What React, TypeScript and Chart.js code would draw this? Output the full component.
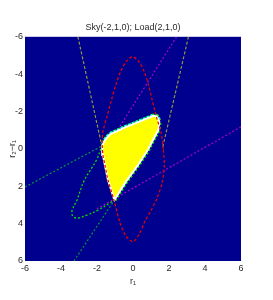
import { useEffect, useRef } from 'react';
import { Chart, registerables } from 'chart.js';

Chart.register(...registerables);

const TITLE = 'Sky(-2,1,0); Load(2,1,0)';
const X_LABEL = 'r₁';
const Y_LABEL = 'r₂−r₁';
const AXIS_MIN = -6;
const AXIS_MAX = 6;
const TICK_STEP = 2;

// red dashed ellipse (r1, r2-r1)
const RED_ELLIPSE: [number, number][] = [
  [1.69, 0.05], [1.74, 0.9], [1.62, 1.8], [1.35, 2.6], [1.0, 3.3], [0.67, 3.85], [0.35, 4.55],
  [0.0, 4.96], [-0.4, 4.65], [-0.72, 3.95], [-1.06, 2.73], [-1.39, 1.66], [-1.56, 0.86],
  [-1.67, 0.32], [-1.71, -0.21], [-1.67, -0.91], [-1.42, -1.82], [-1.2, -2.6], [-0.95, -3.45],
  [-0.66, -4.2], [-0.34, -4.72], [-0.04, -4.93], [0.3, -4.7], [0.62, -4.15], [0.87, -3.4],
  [1.07, -2.6], [1.32, -1.66], [1.56, -0.86], [1.69, 0.05],
];

// feasible region (yellow)
const REGION: [number, number][] = [
  [-1.71, -0.21], [-1.5, -0.54], [-1.28, -0.78], [-0.91, -0.94], [-0.44, -1.15], [0.39, -1.47],
  [1.13, -1.77], [1.32, -1.74], [1.46, -1.47], [1.41, -1.02], [1.11, -0.48], [0.83, 0.05],
  [0.28, 0.86], [-0.44, 1.82], [-1.03, 2.73], [-1.39, 1.66], [-1.56, 0.86], [-1.67, 0.32],
  [-1.71, -0.21],
];

// green curve: loop outside the region
const GREEN_LOOP: [number, number][] = [
  [-1.71, -0.21], [-2.03, 0.59], [-2.72, 1.71], [-3.11, 2.73], [-3.39, 3.32], [-3.33, 3.62],
  [-3.06, 3.7], [-2.56, 3.54], [-1.94, 3.27], [-1.28, 2.89], [-1.03, 2.73],
];

// green curve: part running along the region boundary
const GREEN_EDGE: [number, number][] = [
  [-1.03, 2.73], [-0.44, 1.82], [0.28, 0.86], [0.83, 0.05], [1.11, -0.48], [1.41, -1.02],
  [1.46, -1.47], [1.32, -1.74], [1.13, -1.77], [0.39, -1.47], [-0.44, -1.15], [-0.91, -0.94],
  [-1.28, -0.78], [-1.5, -0.54], [-1.71, -0.21],
];

// cyan curve along the top of the region
const CYAN_EDGE: [number, number][] = [
  [1.46, -1.47], [1.32, -1.74], [1.13, -1.77], [0.39, -1.47], [-0.44, -1.15], [-0.91, -0.94],
  [-1.28, -0.78], [-1.5, -0.54], [-1.71, -0.21],
];

// straight constraint lines
const DKGREEN_LINE_1: [number, number][] = [[-6, 2.04], [-1.72, -0.16]];
const DKGREEN_LINE_2: [number, number][] = [[-3.28, 6], [-1.03, 2.73]];
const YELLOW_LINE_1: [number, number][] = [[-3.06, -6], [-1.78, -0.375]];
const YELLOW_LINE_2: [number, number][] = [[3.08, -6], [1.64, -0.05]];
const MAGENTA_LINE_1: [number, number][] = [[2.42, -6], [-0.89, -0.96]];
const MAGENTA_LINE_2: [number, number][] = [[6, -1.18], [-2.0, 3.2]];

const toPts = (a: [number, number][]) => a.map(([x, y]) => ({ x, y }));

const FONT = 'Liberation Sans, Arial, Helvetica, sans-serif';
const TEXT = '#2a2a2a';

const bgPlugin = {
  id: 'plotBg',
  beforeDatasetsDraw(chart: any) {
    const { ctx, chartArea } = chart;
    ctx.save();
    ctx.fillStyle = '#00008f';
    ctx.fillRect(chartArea.left, chartArea.top, chartArea.right - chartArea.left, chartArea.bottom - chartArea.top);
    ctx.restore();
  },
};

function line(data: [number, number][], color: string, width: number, dash: number[], order: number, extra: any = {}) {
  return {
    data: toPts(data),
    showLine: true,
    pointRadius: 0,
    borderColor: color,
    borderWidth: width,
    borderDash: dash,
    fill: false,
    order,
    ...extra,
  };
}

export default function App() {
  const ref = useRef<HTMLCanvasElement | null>(null);
  useEffect(() => {
    if (!ref.current) return;
    const chart = new Chart(ref.current, {
      type: 'scatter',
      data: {
        datasets: [
          line(RED_ELLIPSE, 'rgb(235,0,0)', 1.2, [3, 2], 0, { tension: 0.3 }),
          {
            data: toPts(REGION),
            showLine: true,
            pointRadius: 0,
            borderColor: '#ffffff',
            borderWidth: 2,
            backgroundColor: '#ffff00',
            fill: 'shape',
            tension: 0,
            order: 1,
          },
          line(CYAN_EDGE, '#00ffff', 4.5, [2, 2], 2, { borderDashOffset: 2 }),
          line(GREEN_EDGE, 'rgb(0,235,0)', 4.5, [2, 2], 3),
          line(GREEN_LOOP, 'rgb(0,225,0)', 1.3, [2, 2], 4, { tension: 0.4 }),
          line(DKGREEN_LINE_1, 'rgb(0,150,60)', 1.2, [2, 2], 5),
          line(DKGREEN_LINE_2, 'rgb(0,150,60)', 1.2, [2, 2], 5),
          line(YELLOW_LINE_1, 'rgb(150,150,60)', 1.2, [3, 2], 6),
          line(YELLOW_LINE_2, 'rgb(150,150,60)', 1.2, [3, 2], 6),
          line(MAGENTA_LINE_1, 'rgb(170,0,200)', 1.2, [2, 2], 7),
          line(MAGENTA_LINE_2, 'rgb(170,0,200)', 1.2, [2, 2], 7),
        ] as any,
      },
      options: {
        animation: false,
        responsive: false,
        devicePixelRatio: 1,
        layout: { padding: { left: 0, right: 32, top: 0, bottom: 0 } },
        plugins: {
          legend: { display: false },
          tooltip: { enabled: false },
          title: {
            display: true,
            text: TITLE,
            fullSize: false,
            color: TEXT,
            font: { family: FONT, size: 9, weight: 'normal' },
            padding: { top: 22, bottom: 4 },
          },
        },
        scales: {
          x: {
            type: 'linear',
            min: AXIS_MIN,
            max: AXIS_MAX,
            ticks: { stepSize: TICK_STEP, color: TEXT, font: { family: FONT, size: 9 }, padding: 2, maxRotation: 0 },
            grid: { display: false, drawTicks: false },
            border: { display: false },
            title: { display: true, text: X_LABEL, color: TEXT, font: { family: FONT, size: 9 }, padding: { top: 0, bottom: 12.6 } },
            afterFit: (s: any) => { s.height = 39; },
          },
          y: {
            type: 'linear',
            reverse: true,
            min: AXIS_MIN,
            max: AXIS_MAX,
            ticks: { stepSize: TICK_STEP, color: TEXT, font: { family: FONT, size: 9 }, padding: 2, autoSkip: false },
            grid: { display: false, drawTicks: false },
            border: { display: false },
            title: { display: true, text: Y_LABEL, color: TEXT, font: { family: FONT, size: 9 }, padding: { top: 7.6, bottom: 0 } },
            afterFit: (s: any) => { s.width = 25; },
          },
        },
      },
      plugins: [bgPlugin],
    });
    return () => chart.destroy();
  }, []);
  return (
    <div style={{ position: 'fixed', left: 0, top: 0, width: 273, height: 300, background: '#fff' }}>
      <canvas ref={ref} width={273} height={300} style={{ display: 'block' }} />
    </div>
  );
}
